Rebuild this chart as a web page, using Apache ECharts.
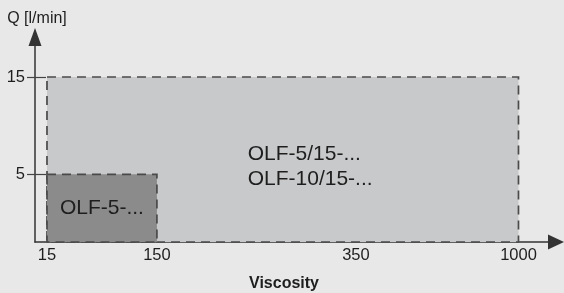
<!DOCTYPE html>
<html>
<head>
<meta charset="utf-8">
<script src="https://cdn.jsdelivr.net/npm/echarts@6/dist/echarts.min.js"></script>
<style>
  html, body { margin: 0; padding: 0; background: #e7e8e7; }
  #chart { width: 564px; height: 293px; }
</style>
</head>
<body>
<div id="chart"></div>
<script>
// tick values on both axes
const viscosityTicks = [15, 150, 350, 1000];
const flowTicks = [5, 15];

// the axes are schematic (not linear): where each tick sits, as a share of the axis length
const viscosityScale = [0.023, 0.234, 0.616, 0.928];
const flowScale = [0.330, 0.805];

// operating ranges of the pump models
const models = ['OLF-5/15-...\nOLF-10/15-...', 'OLF-5-...'];
const viscosityFrom = [15, 15];
const viscosityTo = [1000, 150];
const flowTo = [15, 5];

function xPos(v) {
  return viscosityScale[viscosityTicks.indexOf(v)];
}
function yPos(q) {
  if (q === 0) return 0;
  return flowScale[flowTicks.indexOf(q)];
}
function tickLabel(ticks, scale, value) {
  for (let i = 0; i < scale.length; i++) {
    if (Math.abs(scale[i] - value) < 1e-6) return String(ticks[i]);
  }
  return '';
}

const fills = ['#c8c9ca', '#8b8b8c'];
const font = 'Liberation Sans, Arial, sans-serif';
const ink = '#1e1e1e';

const rangeData = models.map(function (name, i) {
  return {
    name: name,
    value: [xPos(viscosityFrom[i]), xPos(viscosityTo[i]), 0, yPos(flowTo[i])]
  };
});

const chart = echarts.init(document.getElementById('chart'));

const option = {
  backgroundColor: '#e7e8e7',
  animation: false,
  title: {
    text: 'Viscosity',
    left: 279,
    top: 271,
    textAlign: 'center',
    textStyle: { fontFamily: font, fontSize: 16, fontWeight: 'bold', color: ink }
  },
  grid: {
    left: 35, right: 8, top: 37, bottom: 51,
    containLabel: false,
    outerBoundsMode: 'none'
  },
  xAxis: {
    type: 'value',
    min: 0,
    max: 1,
    splitLine: { show: false },
    axisLine: {
      lineStyle: { color: '#333', width: 1.5 },
      symbol: ['none', 'triangle'],
      symbolSize: [15, 16]
    },
    axisTick: { show: false },
    axisLabel: {
      customValues: viscosityScale,
      formatter: function (v) { return tickLabel(viscosityTicks, viscosityScale, v); },
      margin: 5,
      fontFamily: font,
      fontSize: 16.5,
      color: ink
    }
  },
  yAxis: [{
    type: 'value',
    min: 0,
    max: 1,
    name: 'Q [l/min]',
    nameLocation: 'end',
    nameGap: 10,
    nameTextStyle: { fontFamily: font, fontSize: 16, color: ink, padding: [0, 0, 0, 4] },
    splitLine: { show: false },
    axisLine: {
      lineStyle: { color: '#333', width: 1.5 },
      symbol: ['none', 'triangle'],
      symbolSize: [13, 18]
    },
    axisTick: {
      customValues: flowScale,
      length: 8,
      lineStyle: { color: '#444', width: 1.2 }
    },
    axisLabel: {
      customValues: flowScale,
      formatter: function (v) { return tickLabel(flowTicks, flowScale, v); },
      margin: 10,
      fontFamily: font,
      fontSize: 16.5,
      color: ink
    }
  }, {
    // tick marks running on into the plot up to the ranges
    type: 'value',
    position: 'left',
    min: 0,
    max: 1,
    splitLine: { show: false },
    axisLine: { show: false },
    axisLabel: { show: false },
    axisTick: {
      customValues: flowScale,
      inside: true,
      length: 11,
      lineStyle: { color: '#444', width: 1.2 }
    }
  }],
  series: [{
    type: 'custom',
    coordinateSystem: 'cartesian2d',
    data: rangeData,
    renderItem: function (params, api) {
      const i = params.dataIndex;
      const p0 = api.coord([api.value(0), api.value(3)]);
      const p1 = api.coord([api.value(1), api.value(2)]);
      const big = i === 0;
      return {
        type: 'rect',
        shape: { x: p0[0], y: p0[1], width: p1[0] - p0[0], height: p1[1] - p0[1] },
        style: {
          fill: fills[i],
          stroke: '#4a4a4a',
          lineWidth: 1.7,
          lineDash: [9, 6]
        },
        textContent: {
          style: {
            text: models[i],
            fontFamily: font,
            fontSize: 21,
            lineHeight: 25,
            fill: ink,
            align: big ? 'left' : 'center',
            verticalAlign: 'middle'
          }
        },
        textConfig: big ? { position: ['42.6%', '54.5%'] } : { position: 'inside' }
      };
    }
  }]
};

chart.setOption(option);
</script>
</body>
</html>
